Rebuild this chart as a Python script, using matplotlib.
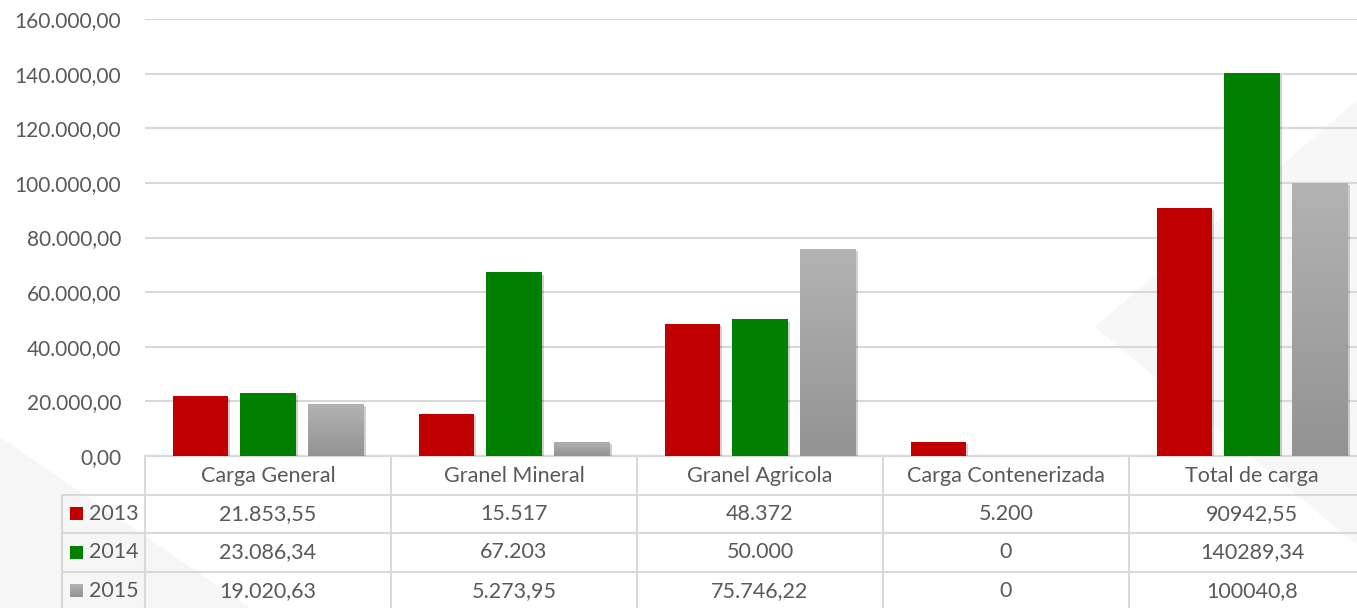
import matplotlib.pyplot as plt
import matplotlib.patheffects as pe
from matplotlib.colors import LinearSegmentedColormap
from matplotlib.patches import Polygon, Rectangle
from matplotlib.transforms import blended_transform_factory
import numpy as np

# datos
categorias = ["Carga General", "Granel Mineral", "Granel Agricola",
              "Carga Contenerizada", "Total de carga"]
anios = ["2013", "2014", "2015"]
v2013 = [21853.55, 15517, 48372, 5200, 90942.55]
v2014 = [23086.34, 67203, 50000, 0, 140289.34]
v2015 = [19020.63, 5273.95, 75746.22, 0, 100040.8]
# textos de la tabla tal como aparecen
t2013 = ["21.853,55", "15.517", "48.372", "5.200", "90942,55"]
t2014 = ["23.086,34", "67.203", "50.000", "0", "140289,34"]
t2015 = ["19.020,63", "5.273,95", "75.746,22", "0", "100040,8"]
yticks = [0, 20000, 40000, 60000, 80000, 100000, 120000, 140000, 160000]

colores = ["#c00000", "#008000", "#a6a6a6"]
texto = "#595959"
linea = "#d9d9d9"
fs = 15.5

plt.rcParams['font.family'] = ['Lato', 'DejaVu Sans']

W, H = 1357, 608
fig = plt.figure(figsize=(W / 100, H / 100), dpi=100)

# marcas de agua de fondo (detras de todo)
fig.patches.append(Polygon([(0, 1 - 437 / H), (250 / W, 0), (0, 0)],
                           closed=True, transform=fig.transFigure,
                           facecolor="#f6f6f6", edgecolor="none", zorder=-5))
fig.patches.append(Polygon([(1095 / W, 1 - 327 / H), (1, 1 - 100 / H), (1, 1 - 545 / H)],
                           closed=True, transform=fig.transFigure,
                           facecolor="#f7f7f7", edgecolor="none", zorder=-5))

x0, x1 = 145, 1375
ax = fig.add_axes([x0 / W, (H - 456) / H, (x1 - x0) / W, 437 / H])
ax.set_zorder(1)
ax.set_facecolor("none")
ax.set_xlim(-0.5, len(categorias) - 0.5)
ax.set_ylim(0, 160000)

for s in ax.spines.values():
    s.set_visible(False)
ax.set_xticks([])
ax.set_yticks(yticks)
ax.set_yticklabels([f"{v:,.2f}".replace(",", "X").replace(".", ",").replace("X", ".")
                    for v in yticks], fontsize=15, color=texto)
ax.tick_params(axis="y", length=0, pad=17)
for y in yticks:
    ax.axhline(y, color=linea, lw=1.5, zorder=1)

x = np.arange(len(categorias))
ancho = 0.224
paso = 0.276
series = [v2013, v2014, v2015]
sombra = [pe.SimplePatchShadow(offset=(1.5, -1.5), shadow_rgbFace="k", alpha=0.18),
          pe.Normal()]
cmap_gris = LinearSegmentedColormap.from_list("gris", ["#b3b3b3", "#939393"])
grad = np.linspace(0, 1, 100).reshape(-1, 1)
for i, vals in enumerate(series):
    bars = ax.bar(x + (i - 1) * paso, vals, ancho, color=colores[i], zorder=3)
    for b in bars:
        if b.get_height() > 0:
            b.set_path_effects(sombra)
    if i == 2:
        for b in bars:
            if b.get_height() <= 0:
                continue
            xl, yb = b.get_x(), b.get_y()
            im = ax.imshow(grad, cmap=cmap_gris, aspect="auto", origin="upper",
                           extent=[xl, xl + b.get_width(), yb, yb + b.get_height()],
                           zorder=4)
            im.set_clip_path(b)

# tabla de datos
tr = blended_transform_factory(ax.transData, ax.transAxes)
fila = 38.5 / 437
izq = -0.5 - 83 / 246
der = len(categorias) - 0.5
kw = dict(transform=tr, clip_on=False, color=linea, lw=1.5)
ax.plot([-0.5, der], [0, 0], **kw)
for k in range(1, 5):
    ax.plot([izq, der], [-k * fila, -k * fila], **kw)
for c in range(len(categorias) + 1):
    ax.plot([c - 0.5, c - 0.5], [0, -4 * fila], **kw)
ax.plot([izq, izq], [-fila, -4 * fila], **kw)

for c, nombre in enumerate(categorias):
    ax.text(c, -0.52 * fila, nombre, transform=tr, ha="center", va="center",
            fontsize=fs, color=texto)
for r, (anio, textos) in enumerate(zip(anios, [t2013, t2014, t2015])):
    yc = -(r + 1.5) * fila
    sq = Rectangle((izq + 8 / 246, yc - 6.5 / 437), 13 / 246, 13 / 437,
                   transform=tr, clip_on=False, facecolor=colores[r],
                   edgecolor="none")
    ax.add_patch(sq)
    if r == 2:
        im = ax.imshow(grad, cmap=cmap_gris, aspect="auto", origin="upper",
                       extent=[izq + 8 / 246, izq + 21 / 246, 0, 1],
                       transform=tr, clip_on=False, zorder=4)
        im.set_extent([izq + 8 / 246, izq + 21 / 246, yc - 6.5 / 437, yc + 6.5 / 437])
        im.set_clip_path(sq)
    ax.text(izq + 27 / 246, yc, anio, transform=tr, ha="left", va="center",
            fontsize=fs, color=texto)
    for c, t in enumerate(textos):
        ax.text(c, yc, t, transform=tr, ha="center", va="center",
                fontsize=fs, color=texto)

fig.savefig("out.png", dpi=100)
